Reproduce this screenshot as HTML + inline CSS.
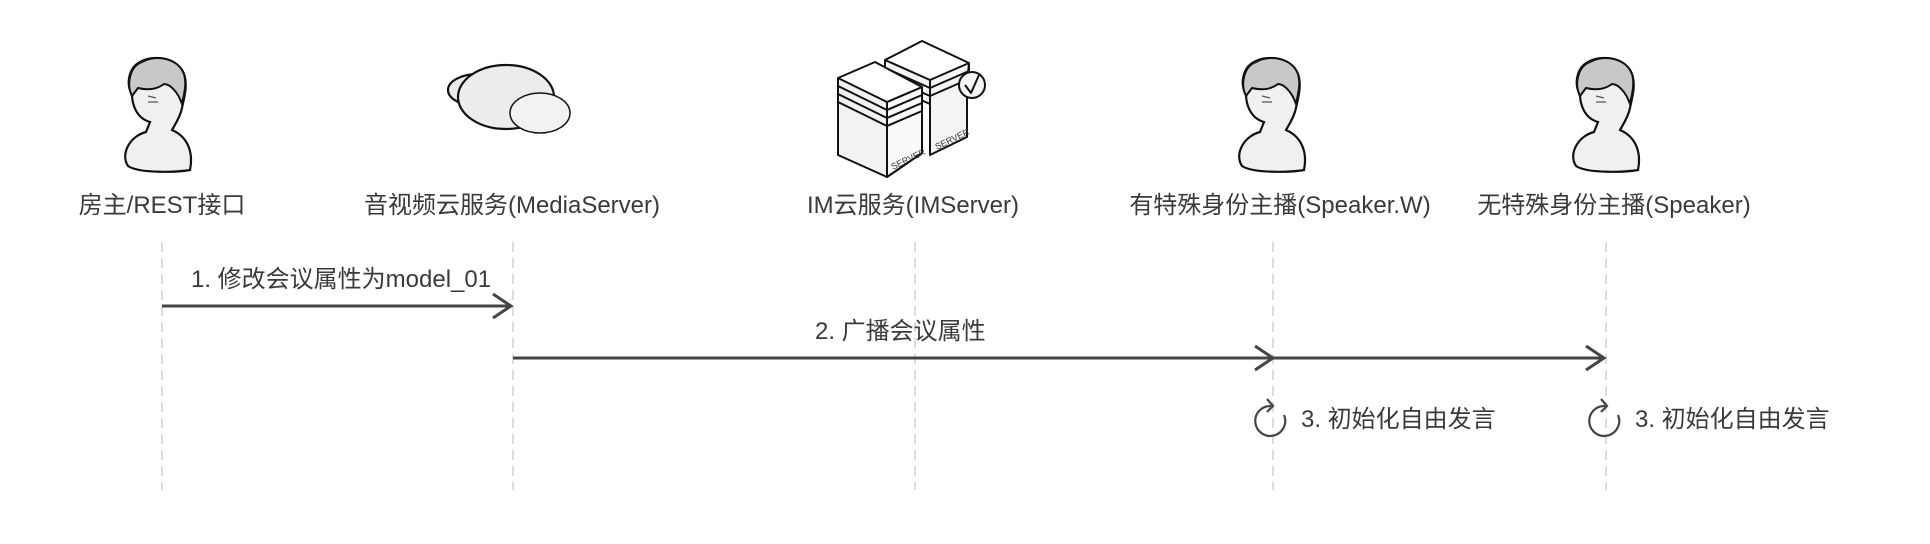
<!DOCTYPE html>
<html><head><meta charset="utf-8"><style>
html,body{margin:0;padding:0;background:#fff;}
svg{display:block}
text{font-family:"Liberation Sans","Noto Sans CJK SC",sans-serif;fill:#3a3a3a;font-size:24px}
</style></head><body>
<svg width="1930" height="544" viewBox="0 0 1930 544" xmlns="http://www.w3.org/2000/svg">
<defs>
<g id="person">
  <path d="M-32,52 C-40,40 -30,22 -14,18 L-10,8 C-24,4 -28,-10 -28,-20 C-34,-28 -32,-46 -20,-52 C-6,-60 18,-56 24,-40 C28,-28 24,-16 22,-6 C20,4 14,12 12,16 C26,22 34,36 30,56 C20,58 -20,60 -32,52 Z" fill="#f0f0f0" stroke="#111" stroke-width="2.2"/>
  <path d="M-28,-18 C-34,-30 -30,-48 -18,-52 C-4,-60 18,-56 24,-40 C27,-30 24,-20 22,-10 C18,-22 10,-30 4,-30 C-4,-24 -14,-24 -22,-26 Z" fill="#c8c8c8" stroke="#111" stroke-width="2"/>
  <path d="M-12,-18 L-4,-16 M-12,-12 L-2,-12" stroke="#555" stroke-width="1.2"/>
</g>
<g id="loop">
  <path d="M1,-15 A15,15 0 1 0 14,-6" fill="none" stroke="#444" stroke-width="2.2"/>
  <path d="M-3,-22 L3,-15 L-3,-9" fill="none" stroke="#444" stroke-width="2.2"/>
</g>
</defs>
<g stroke="#d0d0d0" stroke-width="1.5" stroke-dasharray="10,6">
<line x1="162" y1="242" x2="162" y2="490"/>
<line x1="513" y1="242" x2="513" y2="490"/>
<line x1="915" y1="242" x2="915" y2="490"/>
<line x1="1273" y1="242" x2="1273" y2="490"/>
<line x1="1606" y1="242" x2="1606" y2="490"/>
</g>
<use href="#person" x="160" y="114"/>
<use href="#person" x="1274" y="114"/>
<use href="#person" x="1608" y="114"/>
<g stroke="#111" stroke-width="2.2">
<ellipse cx="478" cy="90" rx="30" ry="16" fill="#ebebeb"/>
<ellipse cx="506" cy="97" rx="48" ry="32" fill="#ececec"/>
<ellipse cx="540" cy="113" rx="30" ry="20" fill="#f2f2f2" stroke-width="1.5"/>
</g>
<g stroke="#111" stroke-width="2" fill="#fff" stroke-linejoin="round">
  <path d="M885,60 L885,84 L930,104 L930,155 L967,137 L967,84 L969,63" fill="#f4f4f4"/>
  <path d="M885,60 L922,41 L969,63 L930,80 Z"/>
  <path d="M885,60 L885,68 L930,88 L969,71 L969,63" fill="none"/>
  <path d="M885,68 L885,76 L930,96 L969,79" fill="none"/>
  <path d="M930,80 L930,155" fill="none"/>
  <circle cx="972" cy="85" r="13" fill="#f6f6f6"/>
  <path d="M965,85 L971,93 L979,75" fill="none"/>
  <path d="M838,78 L838,155 L887,177 L922,153 L922,87" fill="#f2f2f2"/>
  <path d="M887,102 L887,177 L922,153 L922,87 Z" fill="#fafafa"/>
  <path d="M838,78 L875,62 L922,87 L887,102 Z"/>
  <path d="M838,78 L838,86 L887,110 L922,95 L922,87" fill="none"/>
  <path d="M838,86 L838,94 L887,118 L922,103" fill="none"/>
  <path d="M838,94 L838,102 L887,126 L922,111" fill="none"/>
  <path d="M887,102 L887,177" fill="none"/>
</g>
<text x="893" y="170" transform="rotate(-26 893 170)" style="font-size:9px;fill:#333">SERVER</text>
<text x="937" y="150" transform="rotate(-26 937 150)" style="font-size:9px;fill:#333">SERVER</text>
<g text-anchor="middle">
<text x="162" y="213">房主/REST接口</text>
<text x="512" y="213">音视频云服务(MediaServer)</text>
<text x="913" y="213">IM云服务(IMServer)</text>
<text x="1280" y="213">有特殊身份主播(Speaker.W)</text>
<text x="1614" y="213">无特殊身份主播(Speaker)</text>
</g>
<g stroke="#444" stroke-width="3" fill="none">
<line x1="162" y1="306" x2="510" y2="306"/>
<path d="M493,294 L511,306 L493,318"/>
<line x1="513" y1="358" x2="1604" y2="358"/>
<path d="M1255,346 L1273,358 L1255,370"/>
<path d="M1586,346 L1604,358 L1586,370"/>
</g>
<text x="191" y="287">1. 修改会议属性为model_01</text>
<text x="815" y="339">2. 广播会议属性</text>
<use href="#loop" x="1270" y="421"/>
<use href="#loop" x="1604" y="421"/>
<text x="1301" y="427">3. 初始化自由发言</text>
<text x="1635" y="427">3. 初始化自由发言</text>
</svg>
</body></html>
